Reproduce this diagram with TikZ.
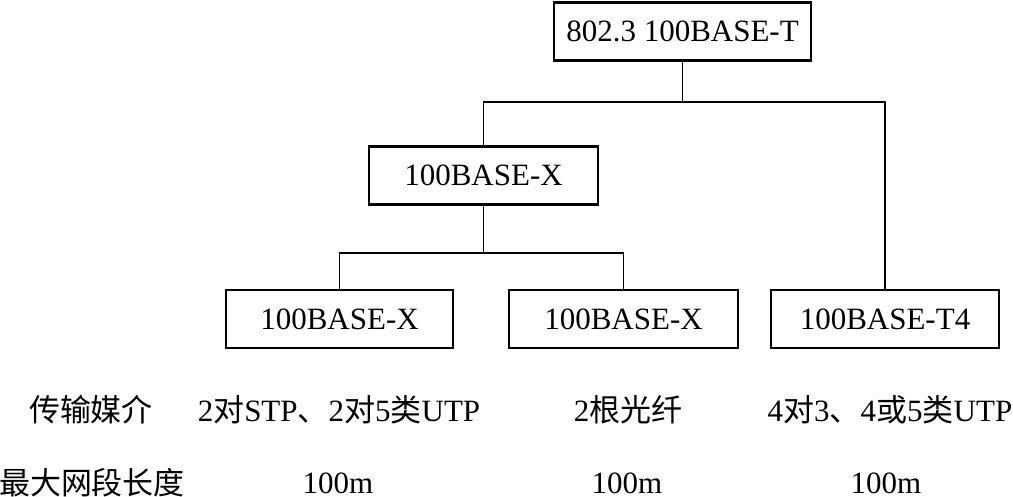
\documentclass[tikz,border=0pt]{standalone}
\usepackage{fontspec}
\setmainfont{Liberation Serif}
\newfontfamily\cjk{Noto Sans CJK SC}
\usetikzlibrary{positioning}
\usetikzlibrary{calc}

\begin{document}
\begin{tikzpicture}[
    x=0.5pt, y=-0.5pt,
    every node/.style={font=\fontsize{15.5}{18}\selectfont},
    box/.style={draw, line width=1.4pt, minimum height=29pt, inner sep=0pt, align=center},
    link/.style={line width=0.9pt},
    cell/.style={inner sep=0pt, anchor=center}
]
\useasboundingbox (0,0) rectangle (1013,497);
\node[box, minimum width=128.5pt] (std) at (682.5,31.5) {802.3 100BASE-T};
\node[box, minimum width=114.5pt] (xgroup) at (483.5,175.5) {100BASE-X};
\node[box, minimum width=113.5pt] (xpair) at (339.5,319) {100BASE-X};
\node[box, minimum width=114.5pt] (xfiber) at (623.5,319) {100BASE-X};
\node[box, minimum width=114pt] (tfour) at (885,319) {100BASE-T4};
% tree lines
\draw[link] (std.south) -- ++(0,40) coordinate (j1);
\draw[link] (xgroup.north) |- (j1) -| (tfour.north);
\draw[link] (xgroup.south) -- ++(0,47) coordinate (j2);
\draw[link] (xpair.north) |- (j2) -| (xfiber.north);
% table rows
\node[cell] (medium) at (91,410) {{\cjk 传输媒介}};
\node[cell] (mpair) at (339,410) {2{\cjk 对}STP{\cjk 、}2{\cjk 对}5{\cjk 类}UTP};
\node[cell] (mfiber) at (628,410) {2{\cjk 根光纤}};
\node[cell] (mfour) at (890,410) {4{\cjk 对}3{\cjk 、}4{\cjk 或}5{\cjk 类}UTP};
\node[cell] (length) at (92,483) {{\cjk 最大网段长度}};
\node[cell] (lpair) at (338,483) {100m};
\node[cell] (lfiber) at (627,483) {100m};
\node[cell] (lfour) at (886,483) {100m};
\end{tikzpicture}
\end{document}
